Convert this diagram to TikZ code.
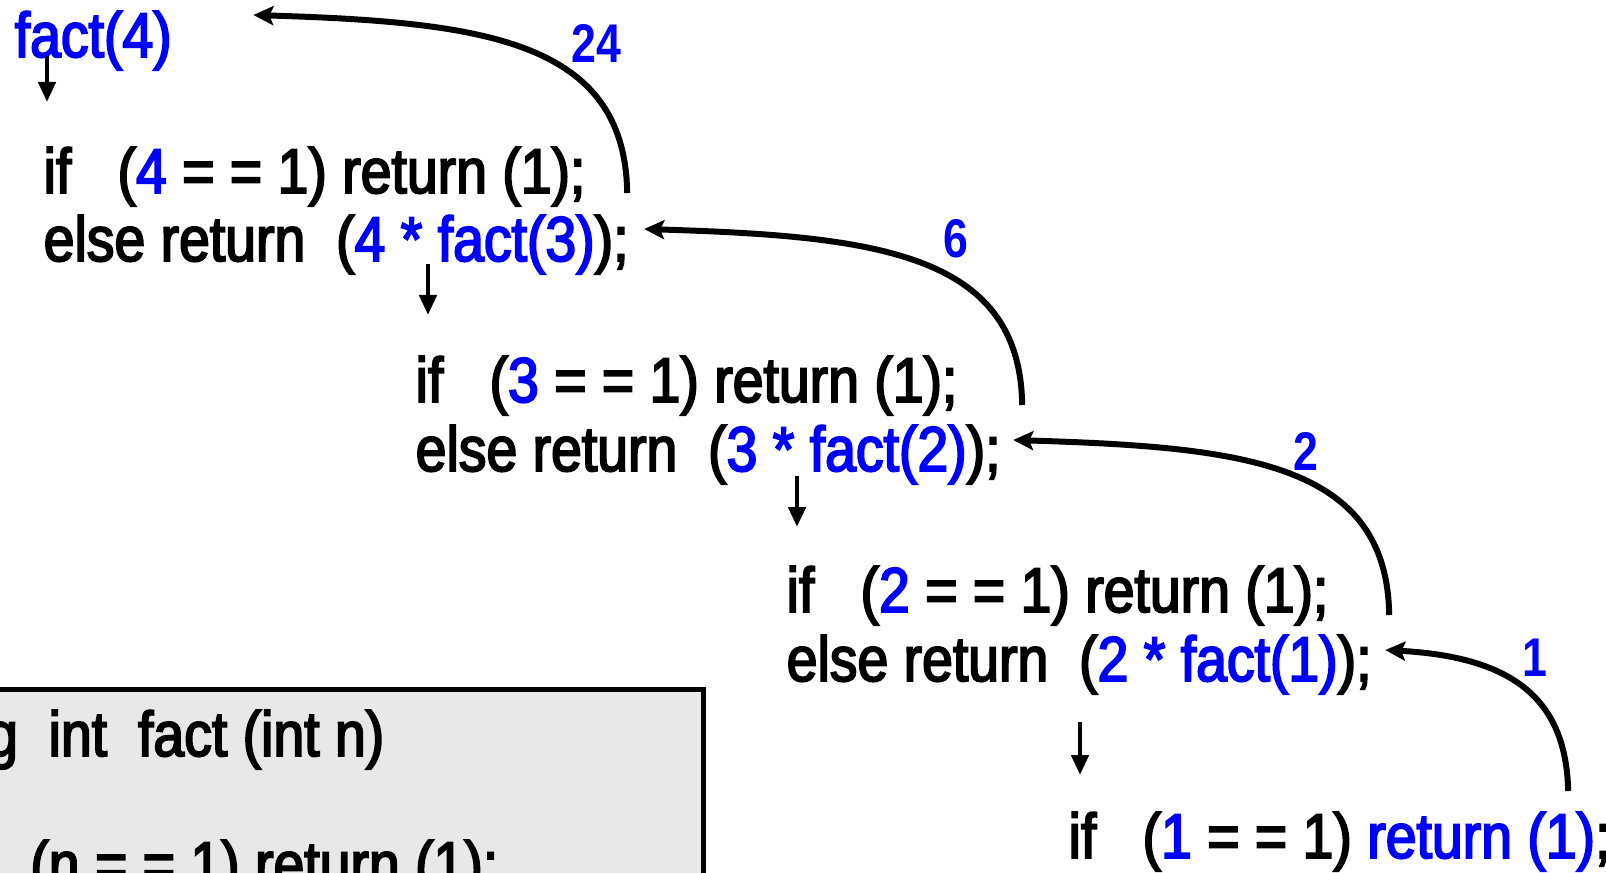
\documentclass[tikz,border=0pt]{standalone}
\usepackage{fontspec}
\setmainfont{Liberation Sans}[FakeStretch=0.875, FakeBold=3]
\newfontfamily\labelfont{Liberation Sans Bold}[FakeStretch=0.82]
\usetikzlibrary{arrows.meta}
\definecolor{numblue}{RGB}{0,0,255}
\definecolor{boxgray}{RGB}{232,232,232}
\newcommand{\bl}[1]{\textcolor{numblue}{#1}}

\begin{document}
\begin{tikzpicture}[
    x=0.01cm, y=-0.01cm,
    code/.style={anchor=base west, inner sep=0pt, font=\fontsize{18}{20}\selectfont},
    num/.style={text=numblue, inner sep=0pt, font=\labelfont\fontsize{15.5}{17}\selectfont},
    boxframe/.style={draw, line width=1.5pt, fill=boxgray, inner sep=0pt},
    call/.style={-{Triangle[length=2mm,width=1.7mm]}, line width=1.3pt},
    ret/.style={-{Stealth[length=2mm,width=1.9mm,inset=0.4mm]}, line width=1.7pt}
]
\clip (0,0) rectangle (1606,872);

% Function box
\node[boxframe, anchor=north east, minimum width=7.6cm, minimum height=2.5cm] (codebox) at (706,687) {};
\node[code, anchor=base east] (head) at (385,756) {long~~int~~fact (int n)};
\node[code, anchor=base east] (test) at (499,886) {if~~~(n = = 1) return (1);};

% Call
\node[code, text=numblue] (fact4) at (14,57) {fact(4)};

% Level n=4
\node[code] (if1) at (43,193) {if~~~(\bl{4} = = 1) return (1);};
\node[code] (else1) at (43,261) {else return~~(\bl{4 * fact(3)});};

% Level n=3
\node[code] (if2) at (415,402) {if~~~(\bl{3} = = 1) return (1);};
\node[code] (else2) at (415,471) {else return~~(\bl{3 * fact(2)});};

% Level n=2
\node[code] (if3) at (786,612) {if~~~(\bl{2} = = 1) return (1);};
\node[code] (else3) at (786,681) {else return~~(\bl{2 * fact(1)});};

% Level n=1
\node[code] (if4) at (1068,858) {if~~~(\bl{1} = = 1) \bl{return (1)};};

% Calls down
\draw[call] (if1.base west) ++(4,-137) -- ++(0,46);
\draw[call] (if2.base west) ++(13,-138) -- ++(0,51);
\draw[call] (if3.base west) ++(11,-136) -- ++(0,51);
\draw[call] (if4.base west) ++(12,-136) -- ++(0,53);

% Returns up
\draw[ret] (if1.base east) ++(41,0) .. controls +(-2,-153) and +(229,7) .. ([shift={(81,-42)}]fact4.base east);
\draw[ret] (if2.base east) ++(64,3) .. controls +(-2,-153) and +(229,7) .. ([shift={(15,-32)}]else1.base east);
\draw[ret] (if3.base east) ++(60,3) .. controls +(-2,-153) and +(229,7) .. ([shift={(12,-31)}]else2.base east);
\draw[ret] (if4.base east) ++(-43,-67) .. controls +(-2,-91) and +(129,7) .. ([shift={(13,-31)}]else3.base east);

% Returned values
\node[num] (v24) at (596,43) {24};
\node[num] (v6) at (956,239) {6};
\node[num] (v2) at (1306,451) {2};
\node[num] (v1) at (1535,658) {1};

\end{tikzpicture}
\end{document}
